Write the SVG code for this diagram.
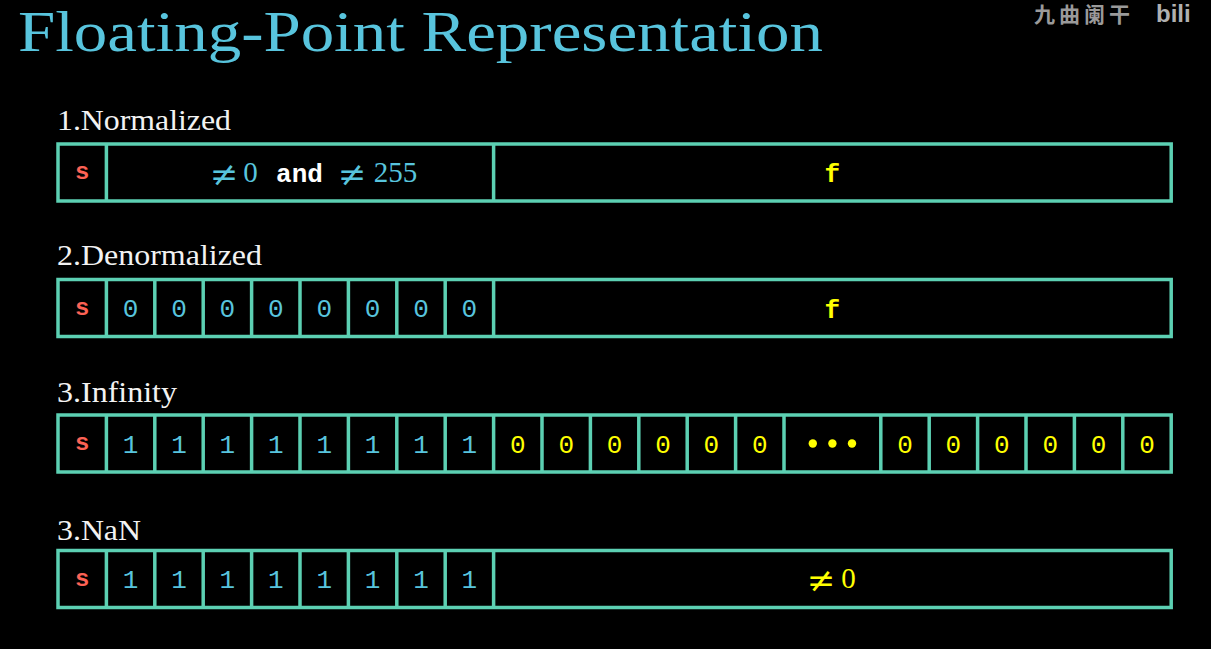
<svg xmlns="http://www.w3.org/2000/svg" width="1211" height="649" viewBox="0 0 1211 649">
<style>
.box{fill:none;stroke:#5CD0B3;stroke-width:3.5}
.sep{stroke:#5CD0B3;stroke-width:3.5}
.lbl{font-family:"Liberation Serif","DejaVu Serif",serif;font-size:30px;fill:#f2f2f2}
.s{font-family:"Liberation Mono",monospace;font-weight:bold;font-size:24px;fill:#FC6255;text-anchor:middle}
.b{font-family:"Liberation Mono",monospace;font-size:26px;fill:#58C4DD;text-anchor:middle}
.y{font-family:"Liberation Mono",monospace;font-size:26px;fill:#FFFF00;text-anchor:middle}
.f{font-family:"Liberation Mono",monospace;font-weight:bold;font-size:26px;fill:#FFFF00;text-anchor:middle}
.m{font-family:"Liberation Serif","DejaVu Serif",serif;font-size:29px;text-anchor:middle}
.ne{font-family:"DejaVu Serif",serif;font-size:34px;text-anchor:middle}
.w{font-family:"Liberation Mono",monospace;font-weight:bold;font-size:26px;fill:#ffffff;text-anchor:middle}
</style>
<rect width="1211" height="649" fill="#000"/>
<g id="watermark">
<text x="1034" y="22" font-family="'Noto Sans CJK SC',sans-serif" font-size="21" letter-spacing="4" fill="#9a9a9a" font-weight="bold">九曲阑干</text>
<text x="1156" y="22" font-family="'Liberation Sans',sans-serif" font-size="24" font-weight="bold" fill="#b0b0b0">bili</text>
</g>
<g id="title">
<text x="18" y="51" font-family="'Liberation Serif','DejaVu Serif',serif" font-size="58" fill="#58C4DD" textLength="805" lengthAdjust="spacingAndGlyphs">Floating-Point Representation</text>
</g>

<g id="row-normalized">
<text class="lbl" x="57" y="130" textLength="174" lengthAdjust="spacingAndGlyphs">1.Normalized</text>
<rect class="box" x="58" y="144" width="1113.2" height="57"/>
<line class="sep" x1="106.4" y1="144" x2="106.4" y2="201"/>
<line class="sep" x1="493.6" y1="144" x2="493.6" y2="201"/>
<text class="s" x="82.2" y="179">s</text>
<text class="ne" x="224" y="186" fill="#58C4DD">≠</text>
<text class="m" x="250.5" y="182" fill="#58C4DD">0</text>
<text class="w" x="299.5" y="182">and</text>
<text class="ne" x="352" y="186" fill="#58C4DD">≠</text>
<text class="m" x="395.5" y="182" fill="#58C4DD">255</text>
<text class="f" x="832.4" y="182">f</text>
</g>

<g id="row-denormalized">
<text class="lbl" x="57" y="265" textLength="205" lengthAdjust="spacingAndGlyphs">2.Denormalized</text>
<rect class="box" x="58" y="279.5" width="1113.2" height="57"/>
<line class="sep" x1="106.4" y1="279.5" x2="106.4" y2="336.5"/>
<line class="sep" x1="154.8" y1="279.5" x2="154.8" y2="336.5"/>
<line class="sep" x1="203.2" y1="279.5" x2="203.2" y2="336.5"/>
<line class="sep" x1="251.6" y1="279.5" x2="251.6" y2="336.5"/>
<line class="sep" x1="300" y1="279.5" x2="300" y2="336.5"/>
<line class="sep" x1="348.4" y1="279.5" x2="348.4" y2="336.5"/>
<line class="sep" x1="396.8" y1="279.5" x2="396.8" y2="336.5"/>
<line class="sep" x1="445.2" y1="279.5" x2="445.2" y2="336.5"/>
<line class="sep" x1="493.6" y1="279.5" x2="493.6" y2="336.5"/>
<text class="s" x="82.2" y="314.5">s</text>
<text class="b" x="130.6" y="317">0</text>
<text class="b" x="179" y="317">0</text>
<text class="b" x="227.4" y="317">0</text>
<text class="b" x="275.8" y="317">0</text>
<text class="b" x="324.2" y="317">0</text>
<text class="b" x="372.6" y="317">0</text>
<text class="b" x="421" y="317">0</text>
<text class="b" x="469.4" y="317">0</text>
<text class="f" x="832.4" y="317.5">f</text>
</g>

<g id="row-infinity">
<text class="lbl" x="57" y="402" textLength="120" lengthAdjust="spacingAndGlyphs">3.Infinity</text>
<rect class="box" x="58" y="415" width="1113.2" height="57"/>
<line class="sep" x1="106.4" y1="415" x2="106.4" y2="472"/>
<line class="sep" x1="154.8" y1="415" x2="154.8" y2="472"/>
<line class="sep" x1="203.2" y1="415" x2="203.2" y2="472"/>
<line class="sep" x1="251.6" y1="415" x2="251.6" y2="472"/>
<line class="sep" x1="300" y1="415" x2="300" y2="472"/>
<line class="sep" x1="348.4" y1="415" x2="348.4" y2="472"/>
<line class="sep" x1="396.8" y1="415" x2="396.8" y2="472"/>
<line class="sep" x1="445.2" y1="415" x2="445.2" y2="472"/>
<line class="sep" x1="493.6" y1="415" x2="493.6" y2="472"/>
<line class="sep" x1="542" y1="415" x2="542" y2="472"/>
<line class="sep" x1="590.4" y1="415" x2="590.4" y2="472"/>
<line class="sep" x1="638.8" y1="415" x2="638.8" y2="472"/>
<line class="sep" x1="687.2" y1="415" x2="687.2" y2="472"/>
<line class="sep" x1="735.6" y1="415" x2="735.6" y2="472"/>
<line class="sep" x1="784" y1="415" x2="784" y2="472"/>
<line class="sep" x1="880.8" y1="415" x2="880.8" y2="472"/>
<line class="sep" x1="929.2" y1="415" x2="929.2" y2="472"/>
<line class="sep" x1="977.6" y1="415" x2="977.6" y2="472"/>
<line class="sep" x1="1026" y1="415" x2="1026" y2="472"/>
<line class="sep" x1="1074.4" y1="415" x2="1074.4" y2="472"/>
<line class="sep" x1="1122.8" y1="415" x2="1122.8" y2="472"/>
<text class="s" x="82.2" y="450">s</text>
<text class="b" x="130.6" y="452.5">1</text>
<text class="b" x="179" y="452.5">1</text>
<text class="b" x="227.4" y="452.5">1</text>
<text class="b" x="275.8" y="452.5">1</text>
<text class="b" x="324.2" y="452.5">1</text>
<text class="b" x="372.6" y="452.5">1</text>
<text class="b" x="421" y="452.5">1</text>
<text class="b" x="469.4" y="452.5">1</text>
<text class="y" x="517.8" y="452.5">0</text>
<text class="y" x="566.2" y="452.5">0</text>
<text class="y" x="614.6" y="452.5">0</text>
<text class="y" x="663" y="452.5">0</text>
<text class="y" x="711.4" y="452.5">0</text>
<text class="y" x="759.8" y="452.5">0</text>
<circle cx="812.8" cy="443.5" r="4.2" fill="#FFFF00"/>
<circle cx="832.4" cy="443.5" r="4.2" fill="#FFFF00"/>
<circle cx="852" cy="443.5" r="4.2" fill="#FFFF00"/>
<text class="y" x="905" y="452.5">0</text>
<text class="y" x="953.4" y="452.5">0</text>
<text class="y" x="1001.8" y="452.5">0</text>
<text class="y" x="1050.2" y="452.5">0</text>
<text class="y" x="1098.6" y="452.5">0</text>
<text class="y" x="1147" y="452.5">0</text>
</g>

<g id="row-nan">
<text class="lbl" x="57" y="540" textLength="84" lengthAdjust="spacingAndGlyphs">3.NaN</text>
<rect class="box" x="58" y="550.5" width="1113.2" height="57"/>
<line class="sep" x1="106.4" y1="550.5" x2="106.4" y2="607.5"/>
<line class="sep" x1="154.8" y1="550.5" x2="154.8" y2="607.5"/>
<line class="sep" x1="203.2" y1="550.5" x2="203.2" y2="607.5"/>
<line class="sep" x1="251.6" y1="550.5" x2="251.6" y2="607.5"/>
<line class="sep" x1="300" y1="550.5" x2="300" y2="607.5"/>
<line class="sep" x1="348.4" y1="550.5" x2="348.4" y2="607.5"/>
<line class="sep" x1="396.8" y1="550.5" x2="396.8" y2="607.5"/>
<line class="sep" x1="445.2" y1="550.5" x2="445.2" y2="607.5"/>
<line class="sep" x1="493.6" y1="550.5" x2="493.6" y2="607.5"/>
<text class="s" x="82.2" y="585.5">s</text>
<text class="b" x="130.6" y="588">1</text>
<text class="b" x="179" y="588">1</text>
<text class="b" x="227.4" y="588">1</text>
<text class="b" x="275.8" y="588">1</text>
<text class="b" x="324.2" y="588">1</text>
<text class="b" x="372.6" y="588">1</text>
<text class="b" x="421" y="588">1</text>
<text class="b" x="469.4" y="588">1</text>
<text class="ne" x="821" y="592" fill="#FFFF00">≠</text>
<text class="m" x="848.5" y="588" fill="#FFFF00">0</text>
</g>
</svg>
